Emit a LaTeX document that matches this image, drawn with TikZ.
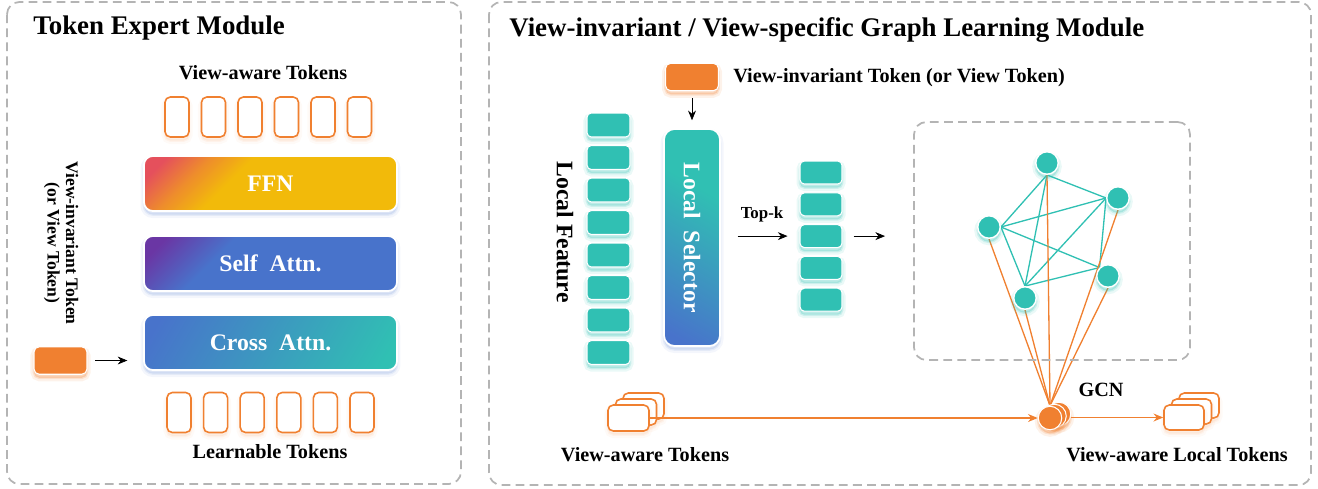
\documentclass[tikz,border=0pt]{standalone}
\usepackage{fontspec}
\setmainfont{Liberation Serif}
\usetikzlibrary{arrows.meta,shadows,backgrounds,positioning}

\definecolor{tokorange}{HTML}{F08030}
\definecolor{featteal}{HTML}{30C0B3}
\definecolor{attnblue}{HTML}{4873CB}
\definecolor{attnpurple}{HTML}{6A36A4}
\definecolor{ffnred}{HTML}{E5505C}
\definecolor{ffnorange}{HTML}{EE8C2C}
\definecolor{ffnyellow}{HTML}{F2BA0A}
\definecolor{panelgray}{HTML}{B4B4B4}

\pgfdeclarehorizontalshading{ffnshade}{100bp}{color(0bp)=(ffnred); color(20bp)=(ffnred); color(30bp)=(ffnorange); color(40bp)=(ffnyellow); color(100bp)=(ffnyellow)}
\pgfdeclarehorizontalshading{selfshade}{100bp}{color(0bp)=(attnpurple); color(20bp)=(attnpurple); color(36bp)=(attnblue); color(100bp)=(attnblue)}
\pgfdeclarehorizontalshading{crossshade}{100bp}{color(0bp)=(attnblue); color(20bp)=(attnblue); color(80bp)=(featteal); color(100bp)=(featteal)}
\pgfdeclarehorizontalshading{selshade}{100bp}{color(0bp)=(attnblue); color(20bp)=(attnblue); color(65bp)=(featteal); color(100bp)=(featteal)}

\tikzset{
  panel/.style={draw=panelgray, line width=1pt, dash pattern=on 5pt off 3pt, rounded corners=7pt},
  glow/.style={general shadow={shadow xshift=0pt, shadow yshift=-2pt, fill=#1, draw=#1, line width=4pt, opacity=0.10},
               general shadow={shadow xshift=0pt, shadow yshift=-2pt, fill=#1, draw=#1, line width=1.5pt, opacity=0.16}},
  title/.style={font=\fontsize{15.3}{18}\selectfont\bfseries, inner sep=0pt},
  lab/.style={font=\fontsize{11.5}{14}\selectfont\bfseries, inner sep=0pt},
  vtok/.style={draw=tokorange, line width=0.9pt, fill=white, rounded corners=3pt, minimum width=0.48cm, minimum height=0.8cm, inner sep=0pt, glow=tokorange!40},
  itok/.style={fill=tokorange, draw=white, line width=0.6pt, rounded corners=3pt, minimum width=1.06cm, minimum height=0.55cm, inner sep=0pt, glow=tokorange},
  block/.style={draw=white, line width=1pt, rounded corners=5pt, minimum width=5.06cm, minimum height=1.1cm, text=white, font=\fontsize{13.5}{16}\selectfont\bfseries, shade, shading angle=-45, glow=attnblue!60},
  feat/.style={fill=featteal, draw=white, line width=0.6pt, rounded corners=2.5pt, minimum width=0.86cm, minimum height=0.48cm, inner sep=0pt, glow=featteal},
  gnode/.style={circle, fill=featteal, draw=white, line width=0.8pt, minimum size=0.45cm, inner sep=0pt, glow=featteal},
  gcnc/.style={circle, fill=tokorange, draw=white, line width=0.6pt, minimum size=0.47cm, inner sep=0pt, glow=tokorange},
  gedge/.style={draw=featteal, line width=0.75pt},
  oline/.style={draw=tokorange, line width=0.75pt},
}

\begin{document}
\begin{tikzpicture}[x=0.02cm, y=-0.02cm, >={Stealth[length=5.5pt, width=4.5pt]}]
\useasboundingbox (0,0) rectangle (1318,488);

% token expert module
\draw[panel] (7,2) rectangle (461,484);
\node[title, anchor=west] (temtitle) at (33,28) {Token Expert Module};
\node[lab] (vatop) at (263,73) {View-aware Tokens};
\foreach \i in {0,...,5}
  \node[vtok] (up\i) at (177+36.5*\i,117) {};
\node[block, shading=ffnshade] (ffn) at (270.5,183.5) {FFN};
\node[block, shading=selfshade] (self) at (270.5,263.5) {Self\ \ Attn.};
\node[block, shading=crossshade, shading angle=-30] (cross) at (270.5,342.5) {Cross\ \ Attn.};
\foreach \i in {0,...,5}
  \node[vtok] (lt\i) at (179+36.6*\i,412.5) {};
\node[lab] (lrnlab) at (270,452) {Learnable Tokens};

% view-invariant token in
\node[itok] (tokL) at (60.5,360.5) {};
\node[lab, rotate=-90, align=center, font=\fontsize{10}{10.5}\selectfont\bfseries] (vitlab) at (61,243) {View-invariant Token\\(or View Token)};
\draw[->] ([xshift=4.5pt]tokL.east) -- ([xshift=-9pt]cross.west |- tokL.east);

% graph learning module
\draw[panel] (489,2) rectangle (1311,485);
\node[title, anchor=west] (gltitle) at (509,30) {View-invariant / View-specific Graph Learning Module};

\node[itok] (tokR) at (692,77) {};
\node[lab, anchor=west] (tokRlab) at (733,78) {View-invariant Token (or View Token)};
\node[draw=white, line width=1pt, rounded corners=6pt, minimum width=1.12cm, minimum height=4.34cm, shade, shading=selshade, shading angle=60, glow=attnblue!60] (sel) at (692,237.5) {};
\node[rotate=-90, text=white, font=\fontsize{13.5}{16}\selectfont\bfseries] (sellab) at (sel) {Local\ \ Selector};
\draw[->] ([yshift=-4pt]tokR.south) -- ([yshift=4.5pt]sel.north);

% local features
\foreach \i in {0,...,7}
  \node[feat] (lf\i) at (608.5,125+32.5*\i) {};
\node[lab, rotate=-90, font=\fontsize{13.5}{16}\selectfont\bfseries] (lflab) at (565,232) {Local Feature};

% top-k selected
\foreach \i in {0,...,4}
  \node[feat, minimum width=0.84cm, minimum height=0.46cm] (sk\i) at (821,172.5+31.8*\i) {};
\node[lab, font=\fontsize{9.6}{12}\selectfont\bfseries] (topk) at (762,214) {Top-k};
\draw[->] ([xshift=9.5pt]sel.east |- sk2.west) -- ([xshift=-6.8pt]sk2.west);

% graph
\node[panel, minimum width=5.52cm, minimum height=4.76cm] (gbox) at (1052,241) {};
\draw[->] ([xshift=6.3pt]sk2.east) -- ([xshift=-16pt]gbox.west |- sk2.east);

\node[gnode] (g1) at (1047,163) {};
\node[gnode] (g2) at (1118,198) {};
\node[gnode] (g3) at (989,227) {};
\node[gnode] (g4) at (1025,298) {};
\node[gnode] (g5) at (1108,276) {};

% GCN
\node[gcnc] (gcn3) at (1059,414) {};
\node[gcnc] (gcn2) at (1054.5,416) {};
\node[gcnc] (gcn) at (1050,418) {};
\node[lab] (gcnlab) at (1101,390) {GCN};

\begin{pgfonlayer}{background}
  \draw[gedge] (g1.south) -- (g2.west);
  \draw[gedge] (g1.south) -- (g3.east);
  \draw[gedge] (g1.south) -- (g4.north);
  \draw[gedge] (g2.west) -- (g3.east);
  \draw[gedge] (g2.west) -- (g4.north);
  \draw[gedge] (g2.west) -- (g5.north west);
  \draw[gedge] (g3.east) -- (g4.north);
  \draw[gedge] (g3.east) -- (g5.north west);
  \draw[gedge] (g4.north) -- (g5.north west);
  \foreach \g in {g1,g2,g3,g4,g5}
    \draw[oline] (\g.south) -- (gcn.north);
\end{pgfonlayer}

% view-aware token stacks
\foreach \k/\dx/\dy in {3/15/-12,2/7.5/-6,1/0/0}
  \node[vtok, minimum width=0.82cm, minimum height=0.52cm] (va\k) at (628.5+\dx,418+\dy) {};
\foreach \k/\dx/\dy in {3/15/-12,2/7.5/-6,1/0/0}
  \node[vtok, minimum width=0.8cm, minimum height=0.5cm] (vl\k) at (1184+\dx,417.5+\dy) {};
\draw[oline, ->] (va1.east) -- (gcn.west);
\draw[oline, ->] (gcn3.east |- vl1.west) -- (vl1.west);
\node[lab] (valab) at (645,455) {View-aware Tokens};
\node[lab] (vllab) at (1177,455) {View-aware Local Tokens};

\end{tikzpicture}
\end{document}
